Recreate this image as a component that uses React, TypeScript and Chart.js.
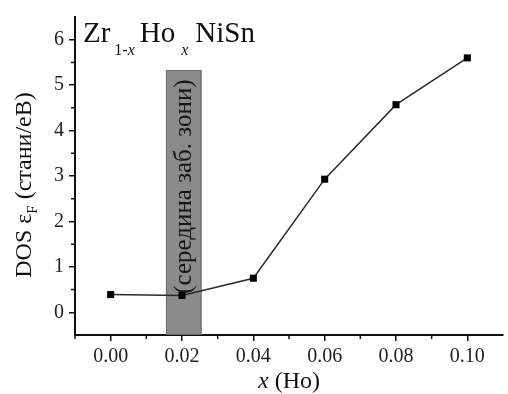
import React, { useEffect, useRef } from "react";
import { Chart, registerables } from "chart.js";

Chart.register(...registerables);

const xValues = [0, 0.02, 0.04, 0.06, 0.08, 0.1];
const dosValues = [0.39, 0.37, 0.75, 2.93, 4.57, 5.6];
const xTicks = [0, 0.02, 0.04, 0.06, 0.08, 0.1];
const yTicks = [0, 1, 2, 3, 4, 5, 6];
const xMinorTicks = [-0.01, 0.01, 0.03, 0.05, 0.07, 0.09];
const yMinorTicks = [0.5, 1.5, 2.5, 3.5, 4.5, 5.5];
const bandRange = [0.0155, 0.0255];
const bandTop = 5.33;
const bandLabel = "(середина заб. зони)";
const yTitleMain = "DOS ε";
const yTitleSub = "F";
const yTitleRest = " (стани/eВ)";
const xTitleItalic = "x";
const xTitleRest = " (Ho)";

const SERIF = '"Liberation Serif", Tinos, "Times New Roman", serif';

const decorPlugin = {
  id: "decor",
  beforeDatasetsDraw(chart: any) {
    const { ctx, chartArea, scales } = chart;
    const xs = scales.x;
    const ys = scales.y;
    const x0 = xs.getPixelForValue(bandRange[0]);
    const x1 = xs.getPixelForValue(bandRange[1]);
    const yt = ys.getPixelForValue(bandTop);
    const yb = chartArea.bottom;
    ctx.save();
    ctx.fillStyle = "#8b8b8b";
    ctx.fillRect(x0, yt, x1 - x0, yb - yt);
    ctx.strokeStyle = "#6a6a6a";
    ctx.lineWidth = 1;
    ctx.strokeRect(x0 + 0.5, yt + 0.5, x1 - x0 - 1, yb - yt - 1);
    // band label
    ctx.translate((x0 + x1) / 2 + 1, (yt + yb) / 2 - 16);
    ctx.rotate(-Math.PI / 2);
    ctx.fillStyle = "#161616";
    ctx.font = `25px ${SERIF}`;
    ctx.textAlign = "center";
    ctx.textBaseline = "middle";
    ctx.fillText(bandLabel, 0, 0);
    ctx.restore();
  },
  afterDraw(chart: any) {
    const { ctx, chartArea, scales } = chart;
    const xs = scales.x;
    const ys = scales.y;
    ctx.save();
    ctx.strokeStyle = "#111";
    ctx.lineWidth = 1.5;
    ctx.beginPath();
    for (const v of yMinorTicks) {
      const y = ys.getPixelForValue(v);
      ctx.moveTo(chartArea.left - 1, y);
      ctx.lineTo(chartArea.left - 4, y);
    }
    for (const v of xMinorTicks) {
      const x = xs.getPixelForValue(v);
      ctx.moveTo(x, chartArea.bottom + 1);
      ctx.lineTo(x, chartArea.bottom + 4);
    }
    ctx.stroke();

    ctx.fillStyle = "#111";
    ctx.textBaseline = "alphabetic";
    ctx.textAlign = "left";
    // title Zr1-xHoxNiSn
    const big = `29px ${SERIF}`;
    const small = `16px ${SERIF}`;
    const smallIt = `italic 16px ${SERIF}`;
    let cx = chartArea.left + 8;
    const base = 42;
    const subBase = 55;
    ctx.font = big;
    ctx.fillText("Zr", cx, base);
    cx += ctx.measureText("Zr").width + 4;
    ctx.font = small;
    ctx.fillText("1-", cx, subBase);
    cx += ctx.measureText("1-").width;
    ctx.font = smallIt;
    ctx.fillText("x", cx, subBase);
    cx += ctx.measureText("x").width + 5;
    ctx.font = big;
    ctx.fillText("Ho", cx, base);
    cx += ctx.measureText("Ho").width + 6;
    ctx.font = smallIt;
    ctx.fillText("x", cx, subBase);
    cx += ctx.measureText("x").width + 7;
    ctx.font = big;
    ctx.fillText("NiSn", cx, base);

    // x title
    const xf = `24px ${SERIF}`;
    const xfi = `italic 24px ${SERIF}`;
    ctx.font = xfi;
    const wI = ctx.measureText(xTitleItalic).width;
    ctx.font = xf;
    const wR = ctx.measureText(xTitleRest).width;
    let tx = (chartArea.left + chartArea.right) / 2 - (wI + wR) / 2;
    const tb = 388;
    ctx.font = xfi;
    ctx.fillText(xTitleItalic, tx, tb);
    ctx.font = xf;
    ctx.fillText(xTitleRest, tx + wI, tb);

    // y title rotated
    ctx.translate(31, 185);
    ctx.rotate(-Math.PI / 2);
    const yf = `24px ${SERIF}`;
    const ysf = `15px ${SERIF}`;
    ctx.font = yf;
    const w1 = ctx.measureText(yTitleMain).width;
    const w3 = ctx.measureText(yTitleRest).width;
    ctx.font = ysf;
    const w2 = ctx.measureText(yTitleSub).width;
    let sx = -(w1 + w2 + w3) / 2;
    ctx.font = yf;
    ctx.fillText(yTitleMain, sx, 0);
    sx += w1;
    ctx.font = ysf;
    ctx.fillText(yTitleSub, sx, 6);
    sx += w2;
    ctx.font = yf;
    ctx.fillText(yTitleRest, sx, 0);
    ctx.restore();
  },
};

export default function App() {
  const ref = useRef<HTMLCanvasElement | null>(null);
  useEffect(() => {
    let chart: any = null;
    let cancelled = false;
    const make = () => {
      if (cancelled || !ref.current) return;
      chart = new Chart(ref.current, {
        type: "line",
        data: {
          datasets: [
            {
              data: xValues.map((x, i) => ({ x, y: dosValues[i] })),
              borderColor: "#2a2a2a",
              borderWidth: 1.5,
              pointStyle: "rect",
              pointRadius: 5,
              pointBackgroundColor: "#000",
              pointBorderColor: "#000",
              pointBorderWidth: 0,
              tension: 0,
            },
          ],
        },
        options: {
          animation: false,
          responsive: true,
          maintainAspectRatio: false,
          layout: { padding: { left: 0, top: 13, right: 1, bottom: 0 } },
          plugins: {
            legend: { display: false },
            tooltip: { enabled: false },
          },
          scales: {
            x: {
              type: "linear",
              min: -0.01,
              max: 0.11,
              afterBuildTicks: (s: any) => {
                s.ticks = xTicks.map((v) => ({ value: v }));
              },
              afterFit: (s: any) => {
                s.height = 59;
              },
              ticks: {
                callback: (v: any) => Number(v).toFixed(2),
                font: { family: SERIF, size: 20 },
                color: "#222",
                padding: 4,
                maxRotation: 0,
              },
              grid: {
                drawOnChartArea: false,
                drawTicks: true,
                tickLength: 6,
                color: "#111",
                lineWidth: 1.5,
              },
              border: { display: true, color: "#111", width: 2 },
            },
            y: {
              type: "linear",
              min: -0.5,
              max: 6.5,
              afterBuildTicks: (s: any) => {
                s.ticks = yTicks.map((v) => ({ value: v }));
              },
              afterFit: (s: any) => {
                s.width = 75;
              },
              ticks: {
                callback: (v: any) => String(v),
                font: { family: SERIF, size: 20 },
                color: "#222",
                padding: 5,
              },
              grid: {
                drawOnChartArea: false,
                drawTicks: true,
                tickLength: 6,
                color: "#111",
                lineWidth: 1.5,
              },
              border: { display: true, color: "#111", width: 2 },
            },
          },
        },
        plugins: [decorPlugin],
      });
    };
    const fontsApi: any = (document as any).fonts;
    if (fontsApi && fontsApi.load) {
      Promise.all([
        fontsApi.load(`20px "Liberation Serif"`, "0123 Zr стани"),
        fontsApi.load(`italic 20px "Liberation Serif"`, "x"),
      ])
        .catch(() => null)
        .then(() => make());
    } else {
      make();
    }
    return () => {
      cancelled = true;
      if (chart) chart.destroy();
    };
  }, []);
  return (
    <div style={{ position: "fixed", left: 0, top: 0, width: 508, height: 394, background: "#fff" }}>
      <canvas ref={ref} />
    </div>
  );
}
